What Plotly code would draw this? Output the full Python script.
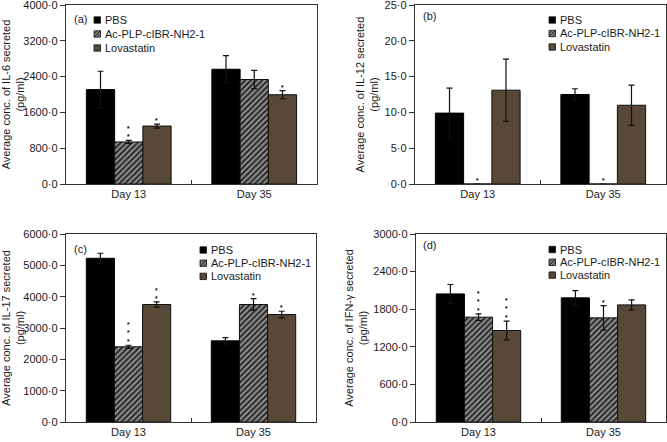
import plotly.graph_objects as go

W, H = 667, 442

categories = ["Day 13", "Day 35"]
series_names = ["PBS", "Ac-PLP-cIBR-NH2-1", "Lovastatin"]

# IL-6 (pg/ml)
il6_pbs = [2110, 2565]
il6_pbs_err = [410, 305]
il6_ac = [940, 2335]
il6_ac_err = [35, 205]
il6_lov = [1295, 1995]
il6_lov_err = [45, 90]
il6_ac_stars = [2, 0]
il6_lov_stars = [1, 1]
il6_ticks = [0, 800, 1600, 2400, 3200, 4000]
il6_ticklabels = ["0·0", "800·0", "1600·0", "2400·0", "3200·0", "4000·0"]

# IL-12 (pg/ml)
il12_pbs = [9.9, 12.5]
il12_pbs_err = [3.5, 0.8]
il12_ac = [0, 0]
il12_ac_err = [0, 0]
il12_lov = [13.1, 11.0]
il12_lov_err = [4.35, 2.8]
il12_ac_stars = [1, 1]
il12_lov_stars = [0, 0]
il12_ticks = [0, 5, 10, 15, 20, 25]
il12_ticklabels = ["0·0", "5·0", "10·0", "15·0", "20·0", "25·0"]

# IL-17 (pg/ml)
il17_pbs = [5225, 2590]
il17_pbs_err = [160, 105]
il17_ac = [2400, 3750]
il17_ac_err = [50, 190]
il17_lov = [3750, 3430]
il17_lov_err = [85, 105]
il17_ac_stars = [3, 1]
il17_lov_stars = [2, 1]
il17_ticks = [0, 1000, 2000, 3000, 4000, 5000, 6000]
il17_ticklabels = ["0·0", "1000·0", "2000·0", "3000·0", "4000·0", "5000·0", "6000·0"]

# IFN-γ (pg/ml)
ifn_pbs = [2044, 1981]
ifn_pbs_err = [150, 116]
ifn_ac = [1673, 1662]
ifn_ac_err = [53, 195]
ifn_lov = [1460, 1869]
ifn_lov_err = [150, 80]
ifn_ac_stars = [3, 1]
ifn_lov_stars = [3, 0]
ifn_ticks = [0, 600, 1200, 1800, 2400, 3000]
ifn_ticklabels = ["0·0", "600·0", "1200·0", "1800·0", "2400·0", "3000·0"]

panels = [
    dict(label="(a)", title="Average conc. of IL-6 secreted<br>(pg/ml)",
         vals=[il6_pbs, il6_ac, il6_lov], errs=[il6_pbs_err, il6_ac_err, il6_lov_err],
         stars=[[0, 0], il6_ac_stars, il6_lov_stars], ticks=il6_ticks, ticklabels=il6_ticklabels,
         xpx=(66, 317), ypx=(5, 184), leg=(103, 20, 14), lab=(72, 19)),
    dict(label="(b)", title="Average conc. of IL-12 secreted<br>(pg/ml)",
         vals=[il12_pbs, il12_ac, il12_lov], errs=[il12_pbs_err, il12_ac_err, il12_lov_err],
         stars=[[0, 0], il12_ac_stars, il12_lov_stars], ticks=il12_ticks, ticklabels=il12_ticklabels,
         xpx=(415, 666), ypx=(5, 184), leg=(558, 20, 13.5), lab=(421, 16)),
    dict(label="(c)", title="Average conc. of IL-17 secreted<br>(pg/ml)",
         vals=[il17_pbs, il17_ac, il17_lov], errs=[il17_pbs_err, il17_ac_err, il17_lov_err],
         stars=[[0, 0], il17_ac_stars, il17_lov_stars], ticks=il17_ticks, ticklabels=il17_ticklabels,
         xpx=(66, 316), ypx=(234, 422), leg=(209, 250, 13.2), lab=(72, 249)),
    dict(label="(d)", title="Average conc. of IFN-γ secreted<br>(pg/ml)",
         vals=[ifn_pbs, ifn_ac, ifn_lov], errs=[ifn_pbs_err, ifn_ac_err, ifn_lov_err],
         stars=[[0, 0], ifn_ac_stars, ifn_lov_stars], ticks=ifn_ticks, ticklabels=ifn_ticklabels,
         xpx=(416, 666), ypx=(234, 422), leg=(558, 249.5, 12.8), lab=(421, 245)),
]

FONT = "Liberation Sans, Arial, Helvetica, sans-serif"
INK = "#1a1a1a"
BARGAP = 0.325
BAR_W = (1 - BARGAP) / 3
FILLS = ["#000000", "#8c8c8c", "#574837"]

markers = [
    dict(color=FILLS[0], line=dict(color="#000000", width=1)),
    dict(color=FILLS[1], line=dict(color="#111111", width=1),
         pattern=dict(shape="/", fgcolor="#1e1e1e", bgcolor=FILLS[1], size=4, solidity=0.45,
                      fillmode="replace")),
    dict(color=FILLS[2], line=dict(color="#111111", width=1)),
]

fig = go.Figure()
annotations = []
shapes = []

def px_x(v):
    return v / W

def px_y(v):
    return 1 - v / H

layout = dict(
    width=W, height=H, margin=dict(l=0, r=0, t=0, b=0, autoexpand=False),
    paper_bgcolor="white", plot_bgcolor="white",
    barmode="group", bargap=BARGAP, bargroupgap=0,
    font=dict(family=FONT, size=11, color=INK),
    showlegend=False,
)

for i, p in enumerate(panels):
    sfx = "" if i == 0 else str(i + 1)
    xa, ya = "x" + sfx, "y" + sfx
    for s in range(3):
        fig.add_trace(go.Bar(
            x=categories, y=p["vals"][s], name=series_names[s],
            xaxis=xa, yaxis=ya, showlegend=False,
            marker=markers[s],
            error_y=dict(type="data", array=p["errs"][s], visible=True,
                         color="#111111", thickness=1.2, width=3),
        ))
        # significance asterisks (stacked) above each bar's error bar
        for c in range(len(categories)):
            n = p["stars"][s][c]
            if n == 0:
                continue
            top = p["vals"][s][c] + p["errs"][s][c]
            annotations.append(dict(
                x=c + (s - 1) * BAR_W, y=top, xref=xa, yref=ya,
                text="<br>".join(["<b>*</b>"] * n), showarrow=False,
                yanchor="bottom", yshift=-1, borderpad=0,
                font=dict(size=6.5, color="#000000", family=FONT),
            ))
    x0, x1 = p["xpx"]
    y0, y1 = p["ypx"]
    layout["xaxis" + sfx] = dict(
        domain=[x0 / W, x1 / W], anchor=ya, type="category",
        range=[-0.5, len(categories) - 0.5],
        showline=True, linecolor="#333333", linewidth=1.2, mirror=True,
        ticks="inside", tickson="boundaries", ticklen=4, tickcolor="#333333",
        tickfont=dict(size=11, color=INK), showgrid=False,
        ticklabeloverflow="allow",
    )
    layout["yaxis" + sfx] = dict(
        domain=[1 - y1 / H, 1 - y0 / H], anchor=xa,
        range=[p["ticks"][0], p["ticks"][-1]],
        tickmode="array", tickvals=p["ticks"], ticktext=p["ticklabels"],
        ticks="outside", ticklen=5, tickcolor="#333333",
        showline=True, linecolor="#333333", linewidth=1.2, mirror=True,
        showgrid=False, zeroline=False, ticklabeloverflow="allow",
        tickfont=dict(size=11, color=INK),
        title=dict(text=p["title"], font=dict(size=11, color=INK), standoff=3),
    )
    # compact in-plot legend (text + small swatches)
    tx, ty, step = p["leg"]
    for s in range(3):
        yc = ty + s * step
        annotations.append(dict(
            x=px_x(tx), y=px_y(yc), xref="paper", yref="paper",
            xanchor="left", yanchor="middle", text=series_names[s], showarrow=False,
            font=dict(size=11, color=INK, family=FONT),
        ))
        sx0, sx1 = tx - 9, tx - 2.5
        sy0, sy1 = yc - 3.2, yc + 3.2
        shapes.append(dict(
            type="rect", xref="paper", yref="paper",
            x0=px_x(sx0), x1=px_x(sx1), y0=px_y(sy1), y1=px_y(sy0),
            fillcolor=FILLS[s], line=dict(color="#111111", width=0.8),
        ))
        if s == 1:
            path = ""
            for d in (0, 3):
                path += "M {:.5f},{:.5f} L {:.5f},{:.5f} ".format(
                    px_x(sx0 + d), px_y(sy1), px_x(sx1), px_y(sy0 + d))
                path += "M {:.5f},{:.5f} L {:.5f},{:.5f} ".format(
                    px_x(sx0), px_y(sy1 - d), px_x(sx1 - d), px_y(sy0))
            shapes.append(dict(type="path", xref="paper", yref="paper", path=path,
                               line=dict(color="#111111", width=0.8)))
    annotations.append(dict(
        x=px_x(p["lab"][0]), y=px_y(p["lab"][1]), xref="paper", yref="paper",
        xanchor="left", yanchor="middle", text=p["label"], showarrow=False,
        font=dict(size=11, color=INK, family=FONT),
    ))

layout["annotations"] = annotations
layout["shapes"] = shapes
fig.update_layout(**layout)
fig.write_html("out.html", config={"displayModeBar": False, "staticPlot": True},
               post_script="document.body.style.margin='0';")
